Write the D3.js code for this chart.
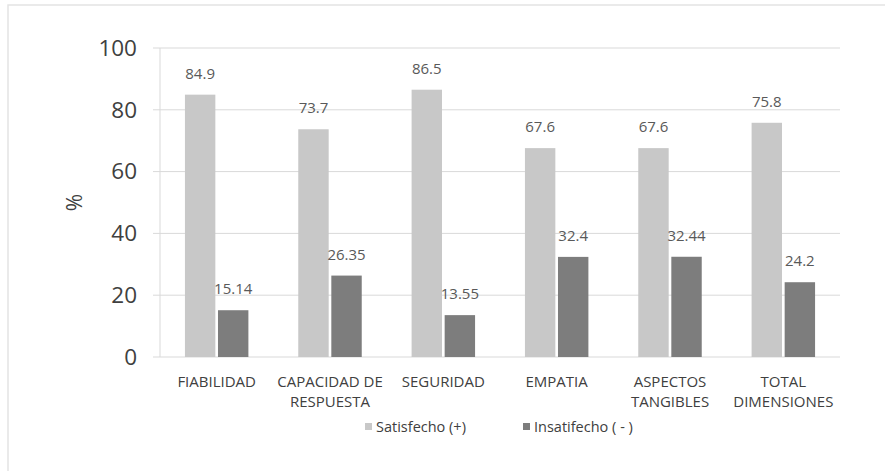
<!DOCTYPE html>
<html>
<head>
<meta charset="utf-8">
<script src="https://cdn.jsdelivr.net/npm/d3@7"></script>
<style>
  body { margin: 0; background: #fff; }
  svg text { font-family: "Open Sans", "Noto Sans", sans-serif; }
</style>
</head>
<body>
<div id="chart"></div>
<script>
// data
const categories = [
  ["FIABILIDAD"],
  ["CAPACIDAD DE", "RESPUESTA"],
  ["SEGURIDAD"],
  ["EMPATIA"],
  ["ASPECTOS", "TANGIBLES"],
  ["TOTAL", "DIMENSIONES"]
];
const seriesNames = ["Satisfecho (+)", "Insatifecho ( - )"];
const satisfecho = [84.9, 73.7, 86.5, 67.6, 67.6, 75.8];
const insatisfecho = [15.14, 26.35, 13.55, 32.4, 32.44, 24.2];
const yTicks = [0, 20, 40, 60, 80, 100];

const width = 885, height = 471;
const margin = {top: 48, right: 45, bottom: 114, left: 160};
const colors = ["#c8c8c8", "#7d7d7d"];

const svg = d3.select("#chart").append("svg")
    .attr("width", width)
    .attr("height", height);

// faint frame of the scanned page
svg.append("path")
    .attr("d", "M8,471 L8,5 L885,5")
    .attr("fill", "none")
    .attr("stroke", "#e4e4e4")
    .attr("stroke-width", 1.5);

const keys = categories.map((c, i) => i);

const x0 = d3.scaleBand()
    .domain(keys)
    .range([margin.left, width - margin.right])
    .paddingInner(0.44)
    .paddingOuter(0.22);

const x1 = d3.scaleBand()
    .domain([0, 1])
    .range([0, x0.bandwidth()])
    .paddingInner(0.08);

const y = d3.scaleLinear()
    .domain([0, 100])
    .range([height - margin.bottom, margin.top]);

// gridlines
svg.append("g")
  .selectAll("line")
  .data(yTicks)
  .enter().append("line")
    .attr("x1", margin.left - 7)
    .attr("x2", width - margin.right)
    .attr("y1", d => y(d))
    .attr("y2", d => y(d))
    .attr("stroke", "#d9d9d9")
    .attr("stroke-width", 1);

// vertical axis line
svg.append("line")
    .attr("x1", margin.left).attr("x2", margin.left)
    .attr("y1", y(100)).attr("y2", y(0))
    .attr("stroke", "#d9d9d9");

// y axis labels
const yAxis = svg.append("g")
    .attr("transform", "translate(" + (margin.left - 23) + ",0)")
    .call(d3.axisLeft(y).tickValues(yTicks).tickSize(0).tickPadding(0));
yAxis.select(".domain").remove();
yAxis.selectAll("text")
    .attr("font-size", 22.5)
    .attr("fill", "#404040")
    .style("font-family", "'Open Sans', sans-serif");

svg.append("text")
    .attr("transform", "translate(82," + y(50) + ") rotate(-90)")
    .attr("text-anchor", "middle")
    .attr("font-size", 21)
    .attr("fill", "#404040")
    .text("%");

// bars
const rows = keys.map(i => [satisfecho[i], insatisfecho[i]]);

const group = svg.append("g")
  .selectAll("g")
  .data(rows)
  .enter().append("g")
    .attr("transform", (d, i) => "translate(" + x0(i) + ",0)");

group.selectAll("rect")
  .data(d => d.map((v, s) => ({v: v, s: s})))
  .enter().append("rect")
    .attr("x", d => x1(d.s))
    .attr("y", d => y(d.v))
    .attr("width", x1.bandwidth())
    .attr("height", d => y(0) - y(d.v))
    .attr("fill", d => colors[d.s]);

group.selectAll("text.val")
  .data(d => d.map((v, s) => ({v: v, s: s})))
  .enter().append("text")
    .attr("class", "val")
    .attr("x", d => x1(d.s) + x1.bandwidth() / 2)
    .attr("y", d => y(d.v) - 16)
    .attr("text-anchor", "middle")
    .attr("font-size", 15)
    .attr("fill", "#595959")
    .text(d => d.v);

// category labels
const catG = svg.append("g")
  .selectAll("text")
  .data(categories)
  .enter().append("text")
    .attr("x", (d, i) => x0(i) + x0.bandwidth() / 2)
    .attr("y", height - margin.bottom + 30)
    .attr("text-anchor", "middle")
    .attr("font-size", 15)
    .attr("fill", "#404040");

catG.selectAll("tspan")
  .data(d => d)
  .enter().append("tspan")
    .attr("x", function() { return d3.select(this.parentNode).attr("x"); })
    .attr("dy", (d, i) => i === 0 ? 0 : 20)
    .text(d => d);

// legend
const legendX = [365, 523];
const legend = svg.append("g")
  .selectAll("g")
  .data(seriesNames)
  .enter().append("g")
    .attr("transform", (d, i) => "translate(" + legendX[i] + "," + (height - margin.bottom + 75) + ")");

legend.append("rect")
    .attr("x", 0).attr("y", -9)
    .attr("width", 7).attr("height", 7)
    .attr("fill", (d, i) => colors[i]);

legend.append("text")
    .attr("x", 11)
    .attr("y", 0)
    .attr("font-size", 14.5)
    .attr("fill", "#404040")
    .text(d => d);
</script>
</body>
</html>
